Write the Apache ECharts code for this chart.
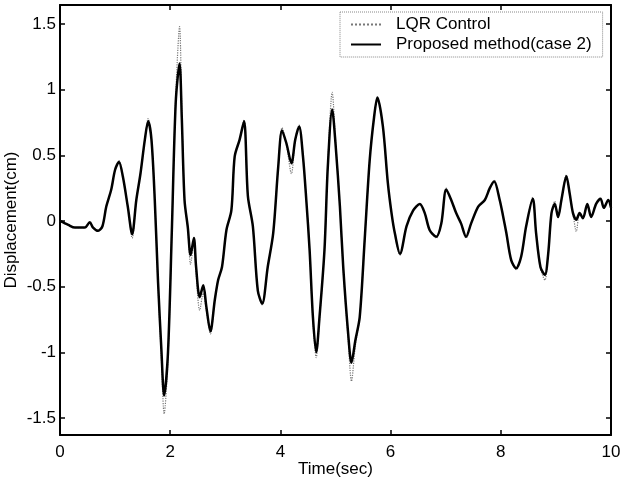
<!DOCTYPE html>
<html>
<head>
<meta charset="utf-8">
<script src="https://cdn.jsdelivr.net/npm/echarts@6/dist/echarts.min.js"></script>
<style>html,body{margin:0;padding:0;background:#fff}#c{width:620px;height:481px}</style>
</head>
<body>
<div id="c"></div>
<script>
const time = [0,0.15,0.27,0.45,0.54,0.6,0.69,0.77,0.84,0.93,1.0,1.07,1.14,1.23,1.31,1.385,1.46,1.54,1.6,1.66,1.72,1.78,1.84,1.89,1.96,2.03,2.1,2.17,2.21,2.26,2.32,2.37,2.43,2.47,2.535,2.6,2.655,2.73,2.81,2.87,2.94,3.02,3.11,3.17,3.26,3.34,3.41,3.5,3.59,3.67,3.77,3.87,3.96,4.03,4.11,4.2,4.27,4.34,4.41,4.47,4.53,4.59,4.65,4.71,4.8,4.86,4.94,5.0,5.08,5.14,5.23,5.29,5.36,5.44,5.53,5.62,5.7,5.76,5.86,5.95,6.02,6.08,6.17,6.29,6.41,6.53,6.62,6.71,6.83,6.92,7.01,7.1,7.19,7.28,7.37,7.46,7.59,7.71,7.8,7.88,7.98,8.04,8.1,8.19,8.28,8.37,8.46,8.58,8.64,8.72,8.8,8.86,8.92,8.98,9.04,9.1,9.19,9.25,9.31,9.37,9.43,9.49,9.57,9.64,9.73,9.81,9.87,9.95,10];
const proposed = [0,-0.03,-0.05,-0.05,-0.01,-0.05,-0.075,-0.04,0.11,0.24,0.39,0.45,0.34,0.11,-0.1,0.16,0.36,0.62,0.76,0.62,0.16,-0.47,-0.98,-1.33,-1.0,-0.07,0.9,1.2,0.79,0.16,-0.05,-0.26,-0.13,-0.35,-0.58,-0.49,-0.65,-0.84,-0.6,-0.45,-0.35,-0.07,0.08,0.49,0.62,0.76,0.19,-0.04,-0.53,-0.63,-0.35,-0.09,0.41,0.69,0.59,0.44,0.62,0.72,0.49,0.16,-0.22,-0.73,-1.0,-0.73,-0.22,0.41,0.85,0.59,0.11,-0.35,-0.86,-1.08,-0.91,-0.73,-0.14,0.46,0.79,0.94,0.72,0.29,0.05,-0.1,-0.25,-0.04,0.08,0.13,0.06,-0.07,-0.12,-0.02,0.24,0.16,0.06,-0.02,-0.12,-0.02,0.11,0.16,0.25,0.3,0.16,0.04,-0.09,-0.3,-0.36,-0.27,-0.04,0.17,-0.09,-0.35,-0.41,-0.25,0.06,0.13,0.03,0.16,0.34,0.21,0.06,0.01,0.06,0.02,0.13,0.03,0.13,0.17,0.1,0.16,0.1];
const lqr = [0,-0.03,-0.05,-0.05,-0.01,-0.05,-0.075,-0.04,0.11,0.24,0.39,0.46,0.34,0.11,-0.13,0.16,0.36,0.62,0.78,0.62,0.16,-0.5,-1.05,-1.47,-1.05,-0.07,0.95,1.48,0.85,0.16,-0.06,-0.33,-0.16,-0.4,-0.68,-0.55,-0.68,-0.86,-0.6,-0.45,-0.35,-0.07,0.08,0.49,0.62,0.77,0.19,-0.04,-0.53,-0.64,-0.35,-0.09,0.41,0.71,0.58,0.36,0.62,0.73,0.49,0.16,-0.23,-0.76,-1.04,-0.75,-0.22,0.43,0.98,0.62,0.11,-0.37,-0.9,-1.22,-0.95,-0.73,-0.14,0.46,0.79,0.94,0.72,0.29,0.05,-0.1,-0.26,-0.04,0.08,0.13,0.06,-0.07,-0.13,-0.02,0.25,0.16,0.06,-0.02,-0.13,-0.02,0.11,0.16,0.25,0.31,0.16,0.04,-0.09,-0.3,-0.37,-0.27,-0.04,0.18,-0.09,-0.36,-0.45,-0.25,0.06,0.15,0.03,0.16,0.35,0.21,0.06,-0.08,0.06,0.02,0.13,0.03,0.13,0.17,0.1,0.16,0.1];
const xTicks = [0,2,4,6,8,10];
const yTicks = [-1.5,-1,-0.5,0,0.5,1,1.5];

const lqrData = time.map((t,i)=>[t,lqr[i]]);
const propData = time.map((t,i)=>[t,proposed[i]]);
const font = 'Liberation Sans, Arial, sans-serif';
const chart = echarts.init(document.getElementById('c'), null, {renderer:'canvas'});
const axisLineStyle = {show:true, onZero:false, lineStyle:{color:'#000', width:2}};
const tickStyle = {color:'#000', width:1.5};
chart.setOption({
  animation:false,
  backgroundColor:'#fff',
  grid:{left:60, right:9, top:5, bottom:46, containLabel:false, outerBoundsMode:'none'},
  legend:{
    left:340, top:12, orient:'vertical',
    itemWidth:30, itemHeight:14, itemGap:3,
    padding:[4,11,4,10],
    borderColor:'#888', borderWidth:1, borderType:'dotted',
    backgroundColor:'#fff',
    itemStyle:{opacity:0},
    textStyle:{fontFamily:font, fontSize:17, color:'#000', lineHeight:17, padding:[0,0,0,10]},
    data:['LQR Control','Proposed method(case 2)']
  },
  xAxis:[
    {type:'value', min:0, max:10, interval:2, position:'bottom',
     name:'Time(sec)', nameLocation:'middle', nameGap:26, nameMoveOverlap:false,
     nameTextStyle:{fontFamily:font, fontSize:17, color:'#000'},
     axisLine:axisLineStyle, axisTick:{show:true, inside:true, length:5, customValues:xTicks, lineStyle:tickStyle},
     axisLabel:{fontFamily:font, fontSize:17, color:'#000', margin:9, customValues:xTicks},
     splitLine:{show:false}},
    {type:'value', min:0, max:10, interval:2, position:'top',
     axisLine:axisLineStyle, axisTick:{show:true, inside:true, length:5, customValues:xTicks, lineStyle:tickStyle},
     axisLabel:{show:false, customValues:xTicks}, splitLine:{show:false}}
  ],
  yAxis:[
    {type:'value', min:-1.63, max:1.645, position:'left',
     name:'Displacement(cm)', nameLocation:'middle', nameGap:40, nameMoveOverlap:false,
     nameTextStyle:{fontFamily:font, fontSize:17, color:'#000'},
     axisLine:axisLineStyle,
     axisTick:{show:true, inside:true, length:5, customValues:yTicks, lineStyle:tickStyle},
     axisLabel:{fontFamily:font, fontSize:17, color:'#000', margin:4, customValues:yTicks},
     splitLine:{show:false}},
    {type:'value', min:-1.63, max:1.645, position:'right',
     axisLine:axisLineStyle,
     axisTick:{show:true, inside:true, length:5, customValues:yTicks, lineStyle:tickStyle},
     axisLabel:{show:false, customValues:yTicks}, splitLine:{show:false}}
  ],
  series:[
    {name:'LQR Control', type:'line', data:lqrData, showSymbol:false, symbol:'none', smooth:0.3,
     lineStyle:{color:'#777', width:1.2, type:'dotted'}, itemStyle:{color:'#777'}, z:2},
    {name:'Proposed method(case 2)', type:'line', data:propData, showSymbol:false, symbol:'none', smooth:0.3,
     lineStyle:{color:'#000', width:2.5}, itemStyle:{color:'#000'}, z:3}
  ]
});
</script>
</body>
</html>
